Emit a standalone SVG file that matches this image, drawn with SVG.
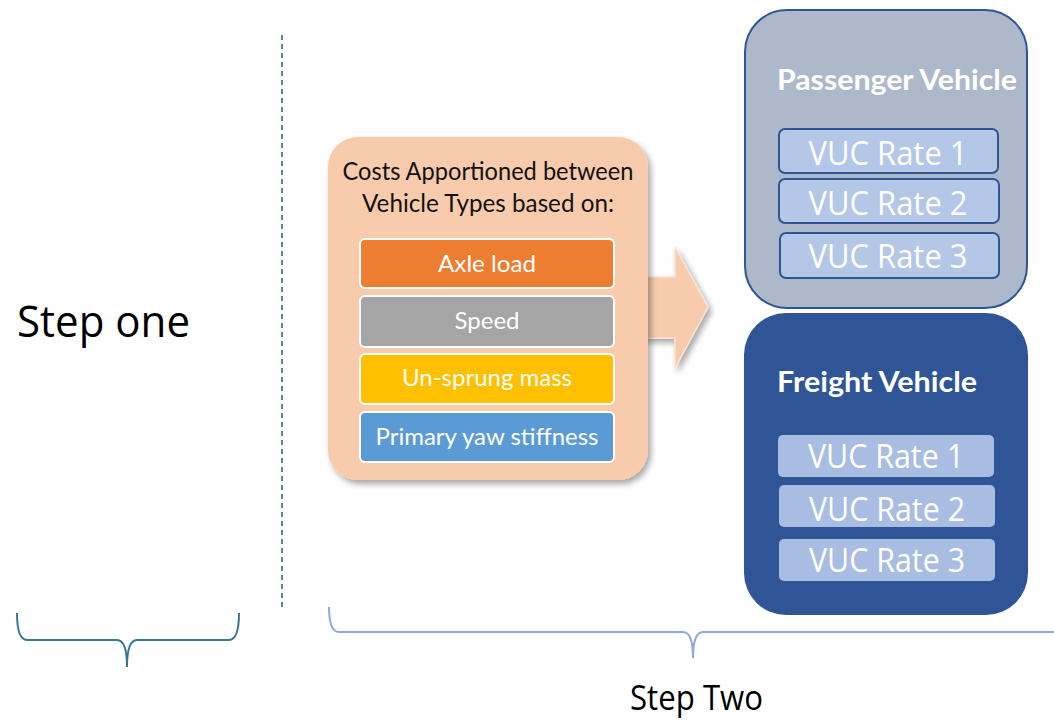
<svg xmlns="http://www.w3.org/2000/svg" width="1054" height="720" viewBox="0 0 1054 720">
  <defs>
    <filter id="softShadow" x="-10%" y="-10%" width="125%" height="125%">
      <feGaussianBlur in="SourceAlpha" stdDeviation="3"/>
      <feOffset dx="3" dy="4" result="blur"/>
      <feComponentTransfer><feFuncA type="linear" slope="0.35"/></feComponentTransfer>
      <feMerge><feMergeNode/><feMergeNode in="SourceGraphic"/></feMerge>
    </filter>
    <style>
      .stepLabel { font-family: "Open Sans", "Liberation Sans", sans-serif; fill: #000; }
      .bodyText { font-family: "Lato", "Liberation Sans", sans-serif; }
      .factor { stroke: #ffffff; stroke-width: 2; }
      .factorText { font-family: "Lato", "Liberation Sans", sans-serif; font-size: 24px; fill: #ffffff; text-anchor: middle; }
      .vehTitle { font-family: "Lato", "Liberation Sans", sans-serif; font-weight: bold; font-size: 29px; fill: #ffffff; }
      .rateText { font-family: "Open Sans", "Liberation Sans", sans-serif; font-size: 33px; fill: #ffffff; text-anchor: middle; }
      .paxRate { fill: #B4C7E7; stroke: #2F5597; stroke-width: 2; }
      .frtRate { fill: #A9BDE3; }
      .brace { fill: none; stroke-width: 2; }
    </style>
  </defs>

  <rect width="1054" height="720" fill="#ffffff"/>

  <!-- step divider -->
  <line x1="282" y1="35" x2="282" y2="608" stroke="#1F5F80" stroke-width="1.5" stroke-dasharray="5,4"/>

  <text class="stepLabel" x="17" y="337" font-size="43" textLength="173" lengthAdjust="spacingAndGlyphs">Step one</text>
  <text class="stepLabel" x="630" y="710" font-size="34" textLength="133" lengthAdjust="spacingAndGlyphs">Step Two</text>

  <g id="connectors">
    <!-- left brace under Step one -->
    <path class="brace" stroke="#3A7692" d="M17,613 Q17,640 27,640 L117,640 Q127,640 127,667 Q127,640 137,640 L229,640 Q239,640 239,613"/>
    <!-- right brace under Step Two -->
    <path class="brace" stroke="#8EA9DB" d="M329,607 Q329,632 339,632 L683,632 Q693,632 693,658 Q693,632 703,632 L1054,632"/>
    <!-- block arrow -->
    <path id="arrow" d="M643,277 L675,277 L675,247 L708,307 L675,368 L675,338 L643,338 Z" fill="#F8CBAD" stroke="#FBE2D2" stroke-width="1.5" filter="url(#softShadow)"/>
  </g>

  <g id="apportion">
    <rect x="328" y="137" width="320" height="343" rx="30" fill="#F8CBAD" filter="url(#softShadow)"/>
    <text class="bodyText" x="488" y="180" font-size="25" fill="#111" text-anchor="middle" textLength="291" lengthAdjust="spacingAndGlyphs">Costs Apportioned between</text>
    <text class="bodyText" x="488" y="212" font-size="25" fill="#111" text-anchor="middle" textLength="252" lengthAdjust="spacingAndGlyphs">Vehicle Types based on:</text>
  </g>

  <g id="axleLoad">
    <rect class="factor" x="360" y="239" width="254" height="49" rx="5" fill="#ED7D31"/>
    <text class="factorText" x="487" y="272" textLength="98" lengthAdjust="spacingAndGlyphs">Axle load</text>
  </g>
  <g id="speed">
    <rect class="factor" x="360" y="296" width="254" height="51" rx="5" fill="#A5A5A5"/>
    <text class="factorText" x="487" y="329">Speed</text>
  </g>
  <g id="unsprungMass">
    <rect class="factor" x="360" y="354" width="254" height="50" rx="5" fill="#FFC000"/>
    <text class="factorText" x="487" y="386" textLength="170" lengthAdjust="spacingAndGlyphs">Un-sprung mass</text>
  </g>
  <g id="yawStiffness">
    <rect class="factor" x="360" y="412" width="254" height="50" rx="5" fill="#5B9BD5"/>
    <text class="factorText" x="487" y="445" textLength="223" lengthAdjust="spacingAndGlyphs">Primary yaw stiffness</text>
  </g>

  <g id="passenger">
    <rect x="745" y="10" width="282" height="298" rx="42" fill="#ADB9CA" stroke="#2F5597" stroke-width="2"/>
    <text class="vehTitle" x="777" y="90" textLength="240" lengthAdjust="spacingAndGlyphs">Passenger Vehicle</text>
    <g id="paxRate1">
      <rect class="paxRate" x="779" y="129" width="219" height="44" rx="6"/>
      <text class="rateText" x="888" y="165" textLength="159" lengthAdjust="spacingAndGlyphs">VUC Rate 1</text>
    </g>
    <g id="paxRate2">
      <rect class="paxRate" x="779" y="179" width="220" height="44" rx="6"/>
      <text class="rateText" x="888" y="215" textLength="159" lengthAdjust="spacingAndGlyphs">VUC Rate 2</text>
    </g>
    <g id="paxRate3">
      <rect class="paxRate" x="780" y="233" width="219" height="45" rx="6"/>
      <text class="rateText" x="888" y="268" textLength="159" lengthAdjust="spacingAndGlyphs">VUC Rate 3</text>
    </g>
  </g>

  <g id="freight">
    <rect x="744" y="313" width="284" height="302" rx="42" fill="#2F5597"/>
    <text class="vehTitle" x="777" y="392" textLength="200" lengthAdjust="spacingAndGlyphs">Freight Vehicle</text>
    <g id="frtRate1">
      <rect class="frtRate" x="778" y="435" width="216" height="42" rx="5"/>
      <text class="rateText" x="886" y="468" textLength="156" lengthAdjust="spacingAndGlyphs">VUC Rate 1</text>
    </g>
    <g id="frtRate2">
      <rect class="frtRate" x="779" y="485" width="216" height="42" rx="5"/>
      <text class="rateText" x="887" y="521" textLength="156" lengthAdjust="spacingAndGlyphs">VUC Rate 2</text>
    </g>
    <g id="frtRate3">
      <rect class="frtRate" x="779" y="539" width="216" height="42" rx="5"/>
      <text class="rateText" x="887" y="572" textLength="156" lengthAdjust="spacingAndGlyphs">VUC Rate 3</text>
    </g>
  </g>
</svg>
